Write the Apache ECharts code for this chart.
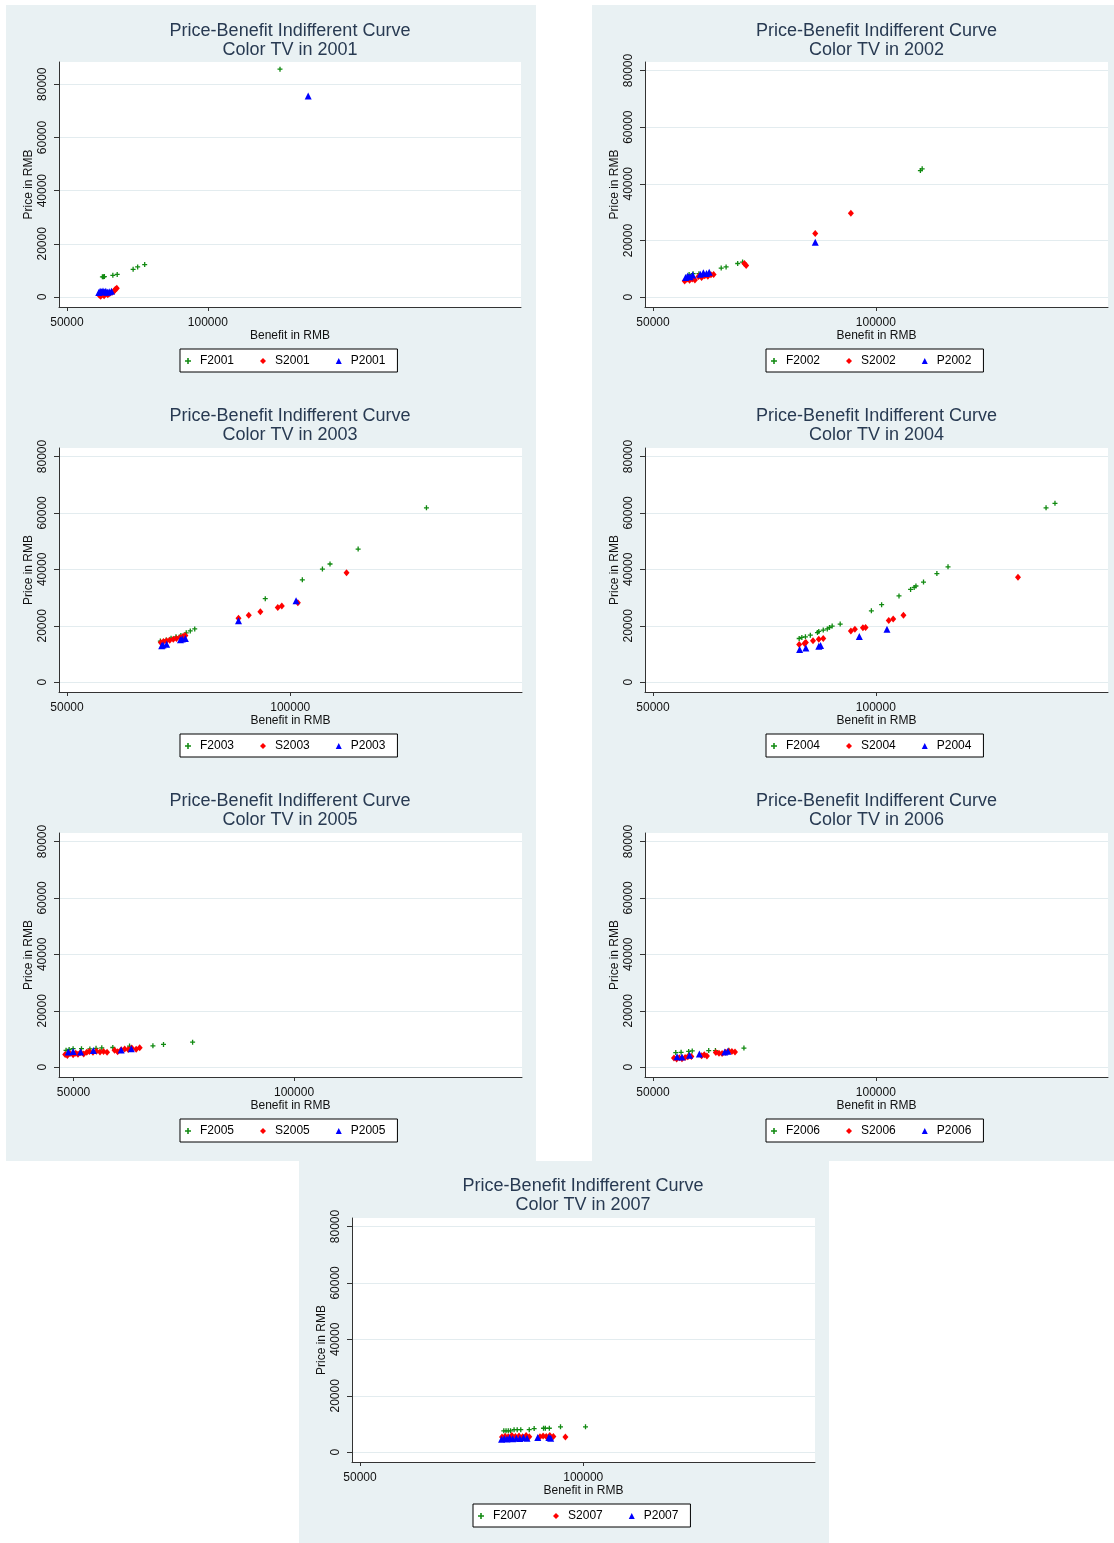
<!DOCTYPE html>
<html>
<head>
<meta charset="utf-8">
<title>Price-Benefit Indifferent Curve — Color TV 2001–2007</title>
<script src="https://cdn.jsdelivr.net/npm/echarts@6/dist/echarts.min.js"></script>
<style>
  html, body { margin: 0; padding: 0; background: #ffffff; }
  #chart { width: 1114px; height: 1543px; }
</style>
</head>
<body>
<div id="chart"></div>
<script>
// ---- data: [benefit in RMB, price in RMB] ----
const years = ['2001', '2002', '2003', '2004', '2005', '2006', '2007'];

const F2001 = [[62600,7600],[63000,7600],[63300,7700],[66300,8150],[67850,8500],[73500,10400],[75100,11300],[77600,12200],[125600,85700]];
const S2001 = [[61500,700],[62000,300],[62500,900],[63200,500],[63800,1100],[64500,800],[65200,1300],[66000,1800],[66800,2300],[67200,2900],[67700,3300]];
const P2001 = [[61300,1700],[61800,2200],[62300,2000],[62800,2300],[63300,1900],[63800,2200],[64400,1800],[65000,2000],[65800,2200],[135600,75600]];

const F2002 = [[58100,8000],[59000,8300],[60300,8300],[65300,10300],[66400,10700],[69000,11900],[70100,12400],[110000,44700],[110400,45300]];
const S2002 = [[57100,5700],[57600,6300],[58200,6000],[58800,6400],[59400,6100],[60200,7300],[60900,7000],[61600,7600],[62300,7400],[63000,7900],[63600,8000],[70500,11900],[70900,11200],[86400,22500],[94400,29600]];
const P2002 = [[57300,7000],[57800,7500],[58300,7200],[58900,7800],[60600,8100],[61300,8600],[62000,8400],[62600,8800],[86400,19400]];

const F2003 = [[70900,14600],[72200,15000],[73300,15600],[74400,16100],[75500,16600],[76700,17500],[77600,18200],[78600,18900],[94400,29600],[102700,36300],[107200,40100],[108900,41900],[115200,47200],[130500,61800]];
const S2003 = [[71000,14100],[71600,14400],[72300,14700],[73000,14900],[73800,15200],[74500,15500],[75300,15900],[76000,16300],[76500,16600],[88400,22700],[90700,23700],[93300,25000],[97200,26500],[98100,27000],[101700,28200],[112600,38800]];
const P2003 = [[71200,12900],[71500,13200],[72300,13500],[75400,15100],[75800,15300],[76500,15500],[88400,21800],[101300,28900]];

const F2004 = [[82800,15500],[83400,15900],[84200,16100],[85300,16700],[86900,17600],[87200,18000],[88200,18500],[89100,18900],[89600,19400],[90200,19900],[92000,20600],[99000,25300],[101300,27500],[105200,30600],[107800,32900],[108600,33600],[109000,34100],[110700,35500],[113700,38500],[116200,40900],[138200,61800],[140200,63400]];
const S2004 = [[82800,13400],[84000,13700],[84300,14100],[85900,14700],[87200,15200],[88200,15500],[94400,18200],[95300,18800],[97100,19300],[97700,19400],[102900,21900],[103900,22400],[106200,23700],[131900,37200]];
const P2004 = [[82900,11600],[84300,12100],[87200,12800],[87600,13000],[96300,16200],[102500,18800]];

const F2005 = [[48300,6000],[49000,6300],[49900,6600],[51800,6600],[53700,6500],[55100,6700],[56400,6900],[58900,7000],[62700,7500],[68000,7600],[70400,8100],[77000,8900]];
const S2005 = [[48100,4500],[48600,4200],[49200,4900],[49900,4400],[50500,5000],[51000,4600],[51600,5200],[52300,4700],[53000,5300],[53600,5600],[54400,5300],[55200,5700],[56000,5400],[56800,5600],[57600,5300],[59300,6000],[60000,5500],[60800,6200],[61600,6500],[62400,6300],[63200,6800],[64200,6400],[65000,6900]];
const P2005 = [[48800,5400],[49900,5600],[51600,5400],[54500,5900],[60800,6100],[63100,6600]];

const F2006 = [[55100,5200],[56300,5300],[58000,5600],[58800,5800],[62500,5900],[64000,5900],[67000,6000],[70400,6800]];
const S2006 = [[54700,3300],[55300,2900],[55900,3400],[56500,3000],[57200,3500],[57800,3700],[58600,3800],[60900,4100],[61500,4400],[62100,4000],[64100,5200],[64800,5000],[65500,4900],[66300,5300],[67000,5700],[67700,5600],[68400,5400]];
const P2006 = [[55400,3700],[56500,3600],[58200,4300],[60400,4700],[66100,5400],[66800,5700]];

const F2007 = [[82200,7600],[82700,7600],[83200,7600],[83700,7600],[84500,8000],[85200,8000],[86000,8000],[87900,8000],[89000,8400],[91100,8500],[91500,8500],[92400,8500],[94900,9000],[100500,9000]];
const S2007 = [[81800,5400],[82500,5700],[83200,5500],[84000,5900],[84800,5600],[85600,5800],[86400,5500],[87200,5900],[87900,5500],[90300,5500],[91000,5800],[91700,5600],[92500,5900],[93300,5600],[96000,5400]];
const P2007 = [[81700,4600],[82300,4900],[82900,4700],[83500,5100],[84200,4800],[85000,5000],[85800,4900],[86600,5200],[87400,5000],[89800,5200],[92300,5200],[92700,5000]];

// tick labels
const xTickValues = [50000, 100000];
const yTickValues = [0, 20000, 40000, 60000, 80000];

// axis extents of each year's plot
const xRanges = [[47200, 211100], [48200, 152100], [48200, 151900], [48200, 152100], [46700, 151700], [48200, 152100], [48200, 151900]];
const yRanges = [[-3760, 88380], [-3450, 83000], [-3450, 83000], [-3450, 83000], [-3450, 83000], [-3450, 83000], [-3450, 83000]];

const fSeries = [F2001, F2002, F2003, F2004, F2005, F2006, F2007];
const sSeries = [S2001, S2002, S2003, S2004, S2005, S2006, S2007];
const pSeries = [P2001, P2002, P2003, P2004, P2005, P2006, P2007];

// ---- layout of the seven panels (page pixels) ----
const panels = [
  { bg: [6, 5, 530, 385],      grid: [59, 62, 462, 245],    legend: [180, 349],  title: [290, 41] },
  { bg: [592, 5, 522, 385],    grid: [645, 62, 463, 245],   legend: [766, 349],  title: [876.5, 41] },
  { bg: [6, 390, 530, 385],    grid: [59, 448, 463, 244],   legend: [180, 734],  title: [290, 426] },
  { bg: [592, 390, 522, 385],  grid: [645, 448, 463, 244],  legend: [766, 734],  title: [876.5, 426] },
  { bg: [6, 775, 530, 386],    grid: [59, 833, 463, 244],   legend: [180, 1119], title: [290, 811] },
  { bg: [592, 775, 522, 386],  grid: [645, 833, 463, 244],  legend: [766, 1119], title: [876.5, 811] },
  { bg: [299, 1161, 530, 382], grid: [352, 1218, 463, 244], legend: [473, 1504], title: [583, 1196] }
];

const FONT = '"Liberation Sans", Arial, sans-serif';
const REGION_BG = '#e9f1f3';
const GRID_LINE = '#e3ecef';
const AXIS_COLOR = '#333333';
const TITLE_COLOR = '#283a52';
const GREEN = '#118a11';
const RED = '#ff0000';
const BLUE = '#0000ff';
const PLUS = 'path://M3.7,0H6.3V3.7H10V6.3H6.3V10H3.7V6.3H0V3.7H3.7Z';

const grids = [], xAxes = [], yAxes = [], series = [], legends = [], graphics = [];

panels.forEach((p, i) => {
  const yr = years[i];
  graphics.push({
    type: 'rect', z: -10, silent: true,
    shape: { x: p.bg[0], y: p.bg[1], width: p.bg[2], height: p.bg[3] },
    style: { fill: REGION_BG }
  });
  graphics.push({
    type: 'text', z: 10, silent: true,
    x: p.title[0], y: p.title[1],
    style: {
      text: 'Price-Benefit Indifferent Curve\nColor TV in ' + yr,
      font: '18px ' + FONT, fill: TITLE_COLOR,
      textAlign: 'center', textVerticalAlign: 'middle', lineHeight: 19
    }
  });

  grids.push({
    left: p.grid[0], top: p.grid[1], width: p.grid[2], height: p.grid[3],
    show: true, backgroundColor: '#ffffff', borderWidth: 0, containLabel: false
  });

  xAxes.push({
    gridIndex: i, type: 'value', min: xRanges[i][0], max: xRanges[i][1],
    name: 'Benefit in RMB', nameLocation: 'middle', nameGap: 20,
    nameTextStyle: { fontFamily: FONT, fontSize: 12, color: '#111' },
    axisLine: { show: true, onZero: false, lineStyle: { color: AXIS_COLOR, width: 1 } },
    axisTick: { show: true, length: 4, customValues: xTickValues, lineStyle: { color: AXIS_COLOR } },
    axisLabel: { customValues: xTickValues, margin: 10, fontFamily: FONT, fontSize: 12, color: '#111',
                 formatter: v => String(v) },
    splitLine: { show: false }
  });

  yAxes.push({
    gridIndex: i, type: 'value', min: yRanges[i][0], max: yRanges[i][1],
    name: 'Price in RMB', nameLocation: 'middle', nameGap: 24,
    nameTextStyle: { fontFamily: FONT, fontSize: 12, color: '#111' },
    axisLine: { show: true, onZero: false, lineStyle: { color: AXIS_COLOR, width: 1 } },
    axisTick: { show: true, length: 5, customValues: yTickValues, lineStyle: { color: AXIS_COLOR } },
    axisLabel: { customValues: yTickValues, rotate: 90, margin: 10, fontFamily: FONT, fontSize: 12, color: '#111',
                 formatter: v => String(v) },
    splitLine: { show: true, lineStyle: { color: GRID_LINE, width: 1 } }
  });

  series.push({
    name: 'F' + yr, type: 'scatter', xAxisIndex: i, yAxisIndex: i,
    symbol: PLUS, symbolSize: 5, itemStyle: { color: GREEN, opacity: 1 },
    data: fSeries[i], z: 3
  });
  series.push({
    name: 'S' + yr, type: 'scatter', xAxisIndex: i, yAxisIndex: i,
    symbol: 'diamond', symbolSize: [6, 7], itemStyle: { color: RED, opacity: 1 },
    data: sSeries[i], z: 4
  });
  series.push({
    name: 'P' + yr, type: 'scatter', xAxisIndex: i, yAxisIndex: i,
    symbol: 'triangle', symbolSize: 7, itemStyle: { color: BLUE, opacity: 1 },
    data: pSeries[i], z: 5
  });

  legends.push({
    data: ['F' + yr, 'S' + yr, 'P' + yr],
    left: p.legend[0], top: p.legend[1], orient: 'horizontal',
    backgroundColor: '#ffffff', borderColor: '#000000', borderWidth: 1,
    padding: [6, 12, 5, 5], itemGap: 26, itemWidth: 6, itemHeight: 6,
    selectedMode: false,
    textStyle: { fontFamily: FONT, fontSize: 12, color: '#000', padding: [0, 0, 0, 4] }
  });
});

const chart = echarts.init(document.getElementById('chart'), null, { renderer: 'canvas' });
chart.setOption({
  backgroundColor: '#ffffff',
  animation: false,
  textStyle: { fontFamily: FONT },
  graphic: { elements: graphics },
  grid: grids,
  xAxis: xAxes,
  yAxis: yAxes,
  legend: legends,
  series: series
});
</script>
</body>
</html>
